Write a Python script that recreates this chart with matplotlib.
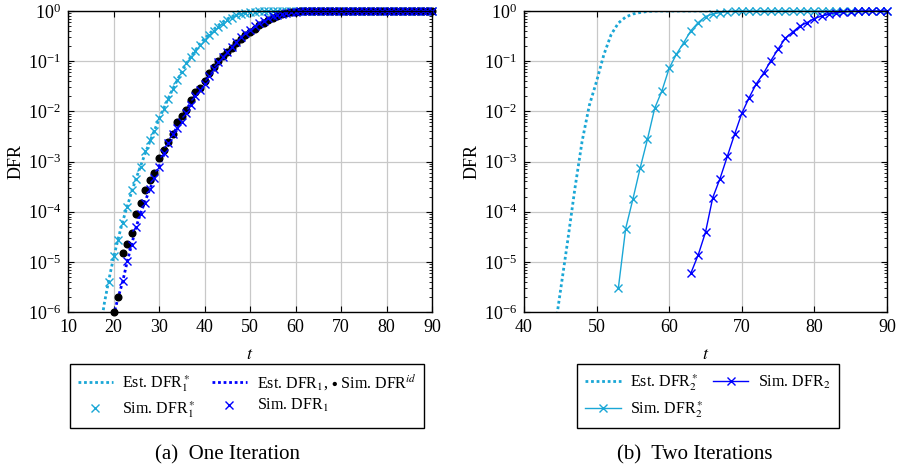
# DFR estimates vs. simulation, one and two iterations

import numpy as np
import matplotlib.pyplot as plt
from matplotlib.ticker import LogLocator, LogFormatterMathtext, NullFormatter

plt.rcParams['font.family'] = ['Liberation Serif', 'DejaVu Serif']
plt.rcParams['mathtext.fontset'] = 'stix'

LIGHT = '#1aa7d6'
BLUE = '#0000ff'

# ---- (a) one iteration: log10 of DFR, t starts given per series ----
t_est1s = np.arange(17, 91)
log_est1s = [-6.4, -5.82, -5.35, -4.92, -4.55, -4.2, -3.9, -3.6, -3.33, -3.08,
             -2.83, -2.6, -2.38, -2.16, -1.95, -1.75, -1.56, -1.38, -1.21, -1.05,
             -0.91, -0.78, -0.66, -0.55, -0.46, -0.37, -0.29, -0.22, -0.16, -0.11,
             -0.07, -0.04, -0.02, -0.01] + [0.0] * 40

t_est1 = np.arange(20, 91)
log_est1 = [-6.07, -5.72, -5.4, -5.0, -4.65, -4.3, -4.02, -3.78, -3.55, -3.32,
            -3.1, -2.88, -2.67, -2.48, -2.3, -2.13, -1.97, -1.82, -1.67, -1.54,
            -1.41, -1.28, -1.16, -1.04, -0.93, -0.83, -0.73, -0.64, -0.55, -0.47,
            -0.4, -0.33, -0.27, -0.21, -0.16, -0.12, -0.08, -0.06, -0.04, -0.02,
            -0.01] + [0.0] * 30

t_sim1s = np.arange(19, 91)
log_sim1s = [-5.40, -4.89, -4.56, -4.22, -3.91, -3.57, -3.35, -3.10, -2.80, -2.58,
             -2.40, -2.14, -1.96, -1.75, -1.55, -1.38, -1.21, -1.04, -0.91, -0.79,
             -0.68, -0.58, -0.48, -0.40, -0.31, -0.25, -0.18, -0.13, -0.08, -0.05,
             -0.03, -0.02, -0.01] + [0.0] * 39

t_sim1 = np.arange(22, 91)
log_sim1 = [-5.39, -4.99, -4.66, -4.30, -4.04, -3.82, -3.55, -3.33, -3.10, -2.84,
            -2.64, -2.46, -2.34, -2.21, -2.03, -1.88, -1.70, -1.58, -1.45, -1.29,
            -1.15, -1.02, -0.91, -0.82, -0.72, -0.62, -0.52, -0.44, -0.37, -0.30,
            -0.24, -0.19, -0.14, -0.10, -0.07, -0.05, -0.03, -0.02, -0.01] + [0.0] * 30

t_id = np.arange(20, 91)
log_id = [-6.0, -5.70, -4.83, -4.65, -4.43, -4.05, -3.82, -3.56, -3.37, -3.23,
          -2.93, -2.78, -2.62, -2.46, -2.22, -2.09, -1.98, -1.77, -1.61, -1.54,
          -1.39, -1.24, -1.11, -0.99, -0.89, -0.81, -0.73, -0.63, -0.56, -0.48,
          -0.41, -0.35, -0.28, -0.23, -0.18, -0.13, -0.09, -0.06, -0.03, -0.02,
          -0.01] + [0.0] * 30

# ---- (b) two iterations ----
t_est2s = np.arange(44, 91)
log_est2s = [-6.6, -5.6, -4.6, -3.55, -2.6, -1.88, -1.4, -0.87, -0.47, -0.24,
             -0.12, -0.06, -0.03, -0.01] + [0.0] * 33

t_sim2s = np.arange(53, 91)
log_sim2s = [-5.52, -4.34, -3.75, -3.13, -2.56, -1.94, -1.59, -1.14, -0.86, -0.63,
             -0.39, -0.23, -0.11, -0.06, -0.03, -0.01] + [0.0] * 22

t_sim2 = np.arange(63, 91)
log_sim2 = [-5.22, -4.86, -4.41, -3.72, -3.34, -2.90, -2.46, -2.04, -1.73, -1.45,
            -1.24, -0.99, -0.76, -0.54, -0.42, -0.30, -0.23, -0.15, -0.10, -0.06,
            -0.03, -0.02, -0.01] + [0.0] * 5


def style_axes(ax, xmin, xmax, xticks):
    ax.set_yscale('log')
    ax.set_xlim(xmin, xmax)
    ax.set_ylim(1e-6, 1)
    ax.set_xticks(xticks)
    ax.yaxis.set_major_locator(LogLocator(base=10, numticks=10))
    ax.yaxis.set_minor_locator(LogLocator(base=10, subs=np.arange(2, 10), numticks=20))
    ax.yaxis.set_major_formatter(LogFormatterMathtext())
    ax.yaxis.set_minor_formatter(NullFormatter())
    ax.grid(True, which='major', color='#c8c8c8', lw=0.9)
    ax.set_axisbelow(True)
    ax.tick_params(which='both', direction='in', top=True, right=True,
                   labelsize=13, pad=5)
    ax.tick_params(which='major', length=4)
    ax.tick_params(which='minor', length=2.5)
    for s in ax.spines.values():
        s.set_linewidth(1.0)
    ax.set_xlabel('$t$', fontsize=13, labelpad=7)
    ax.set_ylabel('DFR', fontsize=13, labelpad=2)


fig = plt.figure(figsize=(9.02, 4.72), dpi=100)
ax1 = fig.add_axes([68 / 902, 1 - 312 / 472, 364 / 902, 301 / 472])
ax2 = fig.add_axes([524 / 902, 1 - 312 / 472, 363 / 902, 301 / 472])

dotted = (0, (1, 1))

# (a)
l1, = ax1.plot(t_est1s, 10.0 ** np.array(log_est1s), color=LIGHT, lw=2, ls=dotted)
l3, = ax1.plot(t_est1, 10.0 ** np.array(log_est1), color=BLUE, lw=2, ls=dotted)
l2, = ax1.plot(t_sim1s, 10.0 ** np.array(log_sim1s), ls='none', marker='x',
               color=LIGHT, ms=6, mew=1.0, clip_on=False)
ax1.plot(t_id, 10.0 ** np.array(log_id), ls='none', marker='o', color='black',
         ms=4.8, clip_on=False)
l4, = ax1.plot(t_sim1, 10.0 ** np.array(log_sim1), ls='none', marker='x',
               color=BLUE, ms=6, mew=1.0, clip_on=False)
style_axes(ax1, 10, 90, np.arange(10, 91, 10))

fig.legend([l1, l2, l3, l4],
           [r'Est. DFR$_1^*$', r'Sim. DFR$_1^*$',
            r'Est. DFR$_1$, $\bullet$ Sim. DFR$^{id}$', r'Sim. DFR$_1$'],
           ncol=2, loc='center', bbox_to_anchor=(247 / 902, 1 - 396 / 472),
           fontsize=11.5, frameon=True, fancybox=False, edgecolor='black',
           framealpha=1, handlelength=2.2, columnspacing=1.0, borderpad=0.5,
           labelspacing=0.35, handletextpad=0.6)

# (b)
m1, = ax2.plot(t_est2s, 10.0 ** np.array(log_est2s), color=LIGHT, lw=2, ls=dotted)
m2, = ax2.plot(t_sim2s, 10.0 ** np.array(log_sim2s), color=LIGHT, lw=1.0,
               marker='x', ms=6, mew=1.0, clip_on=False)
m3, = ax2.plot(t_sim2, 10.0 ** np.array(log_sim2), color=BLUE, lw=1.0,
               marker='x', ms=6, mew=1.0, clip_on=False)
style_axes(ax2, 40, 90, np.arange(40, 91, 10))

fig.legend([m1, m2, m3],
           [r'Est. DFR$_2^*$', r'Sim. DFR$_2^*$', r'Sim. DFR$_2$'],
           ncol=2, loc='center', bbox_to_anchor=(708 / 902, 1 - 396 / 472),
           fontsize=11.5, frameon=True, fancybox=False, edgecolor='black',
           framealpha=1, handlelength=2.2, columnspacing=0.6, borderpad=0.5,
           labelspacing=0.35, handletextpad=0.6)

fig.text(228 / 902, 1 - 455 / 472, '(a)  One Iteration', ha='center', va='center',
         fontsize=15)
fig.text(695 / 902, 1 - 455 / 472, '(b)  Two Iterations', ha='center', va='center',
         fontsize=15)

fig.savefig('out.png', dpi=100)
